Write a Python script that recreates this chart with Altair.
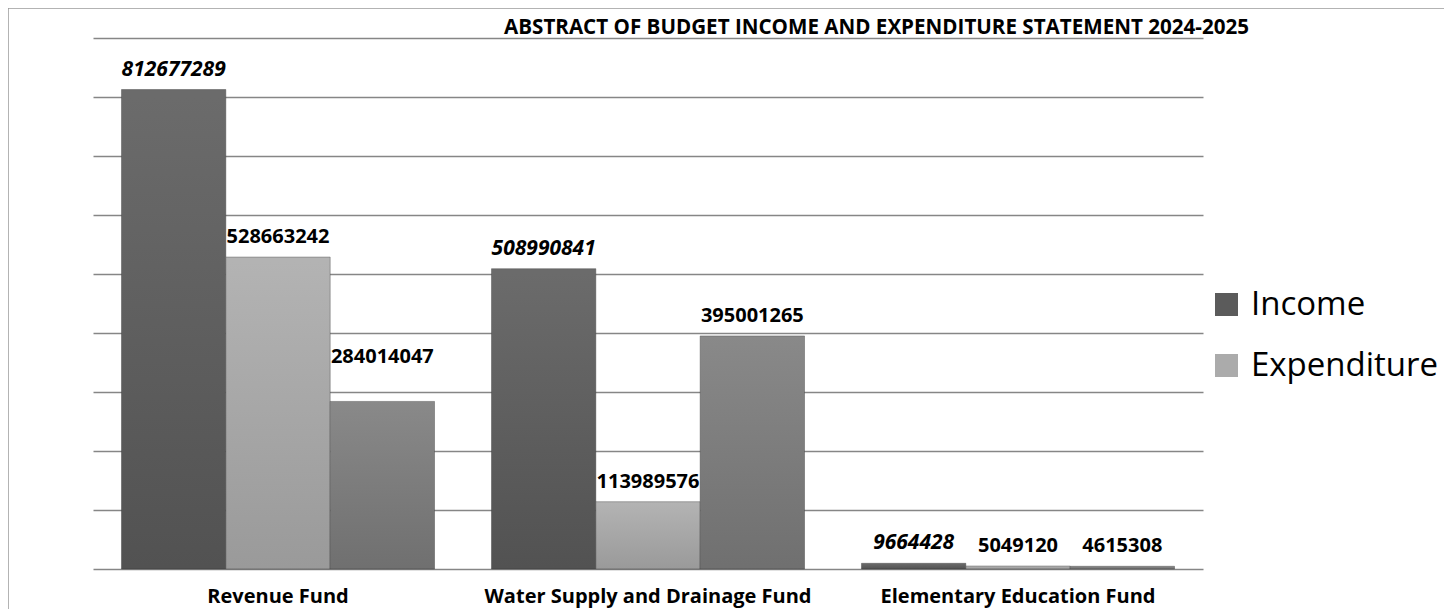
import altair as alt
import pandas as pd

funds = ["Revenue Fund", "Water Supply and Drainage Fund", "Elementary Education Fund"]
series = ["Income", "Expenditure", "Balance"]
income = [812677289, 508990841, 9664428]
expenditure = [528663242, 113989576, 5049120]
balance = [284014047, 395001265, 4615308]
legend_items = ["Income", "Expenditure"]
colors = ["#5b5b5b", "#ababab", "#7c7c7c"]
grid_values = [0, 100000000, 200000000, 300000000, 400000000, 500000000,
               600000000, 700000000, 800000000, 900000000]
title_text = "ABSTRACT OF BUDGET INCOME AND EXPENDITURE STATEMENT 2024-2025"

rows = []
for i, f in enumerate(funds):
    for s, vals in zip(series, [income, expenditure, balance]):
        rows.append({"fund": f, "series": s, "value": vals[i]})
df = pd.DataFrame(rows)

FONT = "Open Sans"
W, H = 1110, 531

x = alt.X("fund:N", sort=funds,
          scale=alt.Scale(paddingInner=0.154, paddingOuter=0.077),
          axis=alt.Axis(title=None, labelAngle=0, labelFontSize=20, labelFont=FONT,
                        labelFontWeight="bold", labelColor="#000", labelPadding=17,
                        labelLimit=0, labelOverlap=False, ticks=False, tickSize=0,
                        domain=False, grid=False))
xo = alt.XOffset("series:N", sort=series, scale=alt.Scale(paddingInner=0, paddingOuter=0))
y = alt.Y("value:Q", scale=alt.Scale(domain=[0, 900000000], nice=False, zero=True),
          axis=alt.Axis(title=None, labels=False, ticks=False, tickSize=0, domain=False,
                        grid=True, values=grid_values, gridColor="#868686", gridWidth=1.4))

base = alt.Chart(df).encode(x=x, xOffset=xo, y=y)

bars = base.mark_bar(stroke="#3a3a3a", strokeWidth=0.8, strokeOpacity=0.5).encode(
    color=alt.Color("series:N", scale=alt.Scale(domain=series, range=colors),
                    legend=alt.Legend(values=legend_items, title=None, orient="none",
                                      legendX=1117, legendY=250, symbolType="square",
                                      symbolSize=530, labelFontSize=33, labelFont=FONT,
                                      labelColor="#000", labelOffset=8, rowPadding=27,
                                      labelLimit=0, symbolStrokeWidth=0))
)

shade = base.mark_bar(fill=alt.Gradient(
    gradient="linear", x1=0, x2=0, y1=0, y2=1,
    stops=[alt.GradientStop(color="#ffffff", offset=0),
           alt.GradientStop(color="#000000", offset=1)]), opacity=0.1)

lab = dict(font=FONT, fontWeight="bold", color="#000", baseline="alphabetic")
txt = alt.Text("value:Q", format="d")
inc_text = base.transform_filter(alt.datum.series == "Income").mark_text(
    fontStyle="italic", fontSize=21, dy=-14, **lab).encode(text=txt)
other_text = base.transform_filter(
    (alt.datum.series != "Income") & ~((alt.datum.fund == "Revenue Fund") & (alt.datum.series == "Balance"))
).mark_text(dy=-14, fontSize=20, **lab).encode(text=txt)
moved_text = base.transform_filter(
    (alt.datum.fund == "Revenue Fund") & (alt.datum.series == "Balance")
).mark_text(dy=-38, fontSize=20, **lab).encode(text=txt)

border = alt.Chart(pd.DataFrame({"k": [0]})).mark_rect(
    fill="transparent", stroke="#9a9a9a", strokeWidth=1.5).encode(
    x=alt.value(-85), x2=alt.value(1400), y=alt.value(-30), y2=alt.value(640))

title = alt.Chart(pd.DataFrame({"t": [title_text]})).mark_text(
    font=FONT, fontSize=20.6, fontWeight="bold", color="#000", align="left",
    baseline="alphabetic").encode(text="t:N", x=alt.value(411), y=alt.value(-4))

chart = alt.layer(border, bars, shade, inc_text, other_text, moved_text, title).properties(
    width=W, height=H,
    padding={"left": 85, "top": 30, "right": 241, "bottom": 40},
    autosize=alt.AutoSizeParams(type="none"),
).configure(background="white", view=alt.ViewConfig(strokeWidth=0, stroke="transparent"))

chart.save("out.html", embed_options={"renderer": "svg", "actions": False})
